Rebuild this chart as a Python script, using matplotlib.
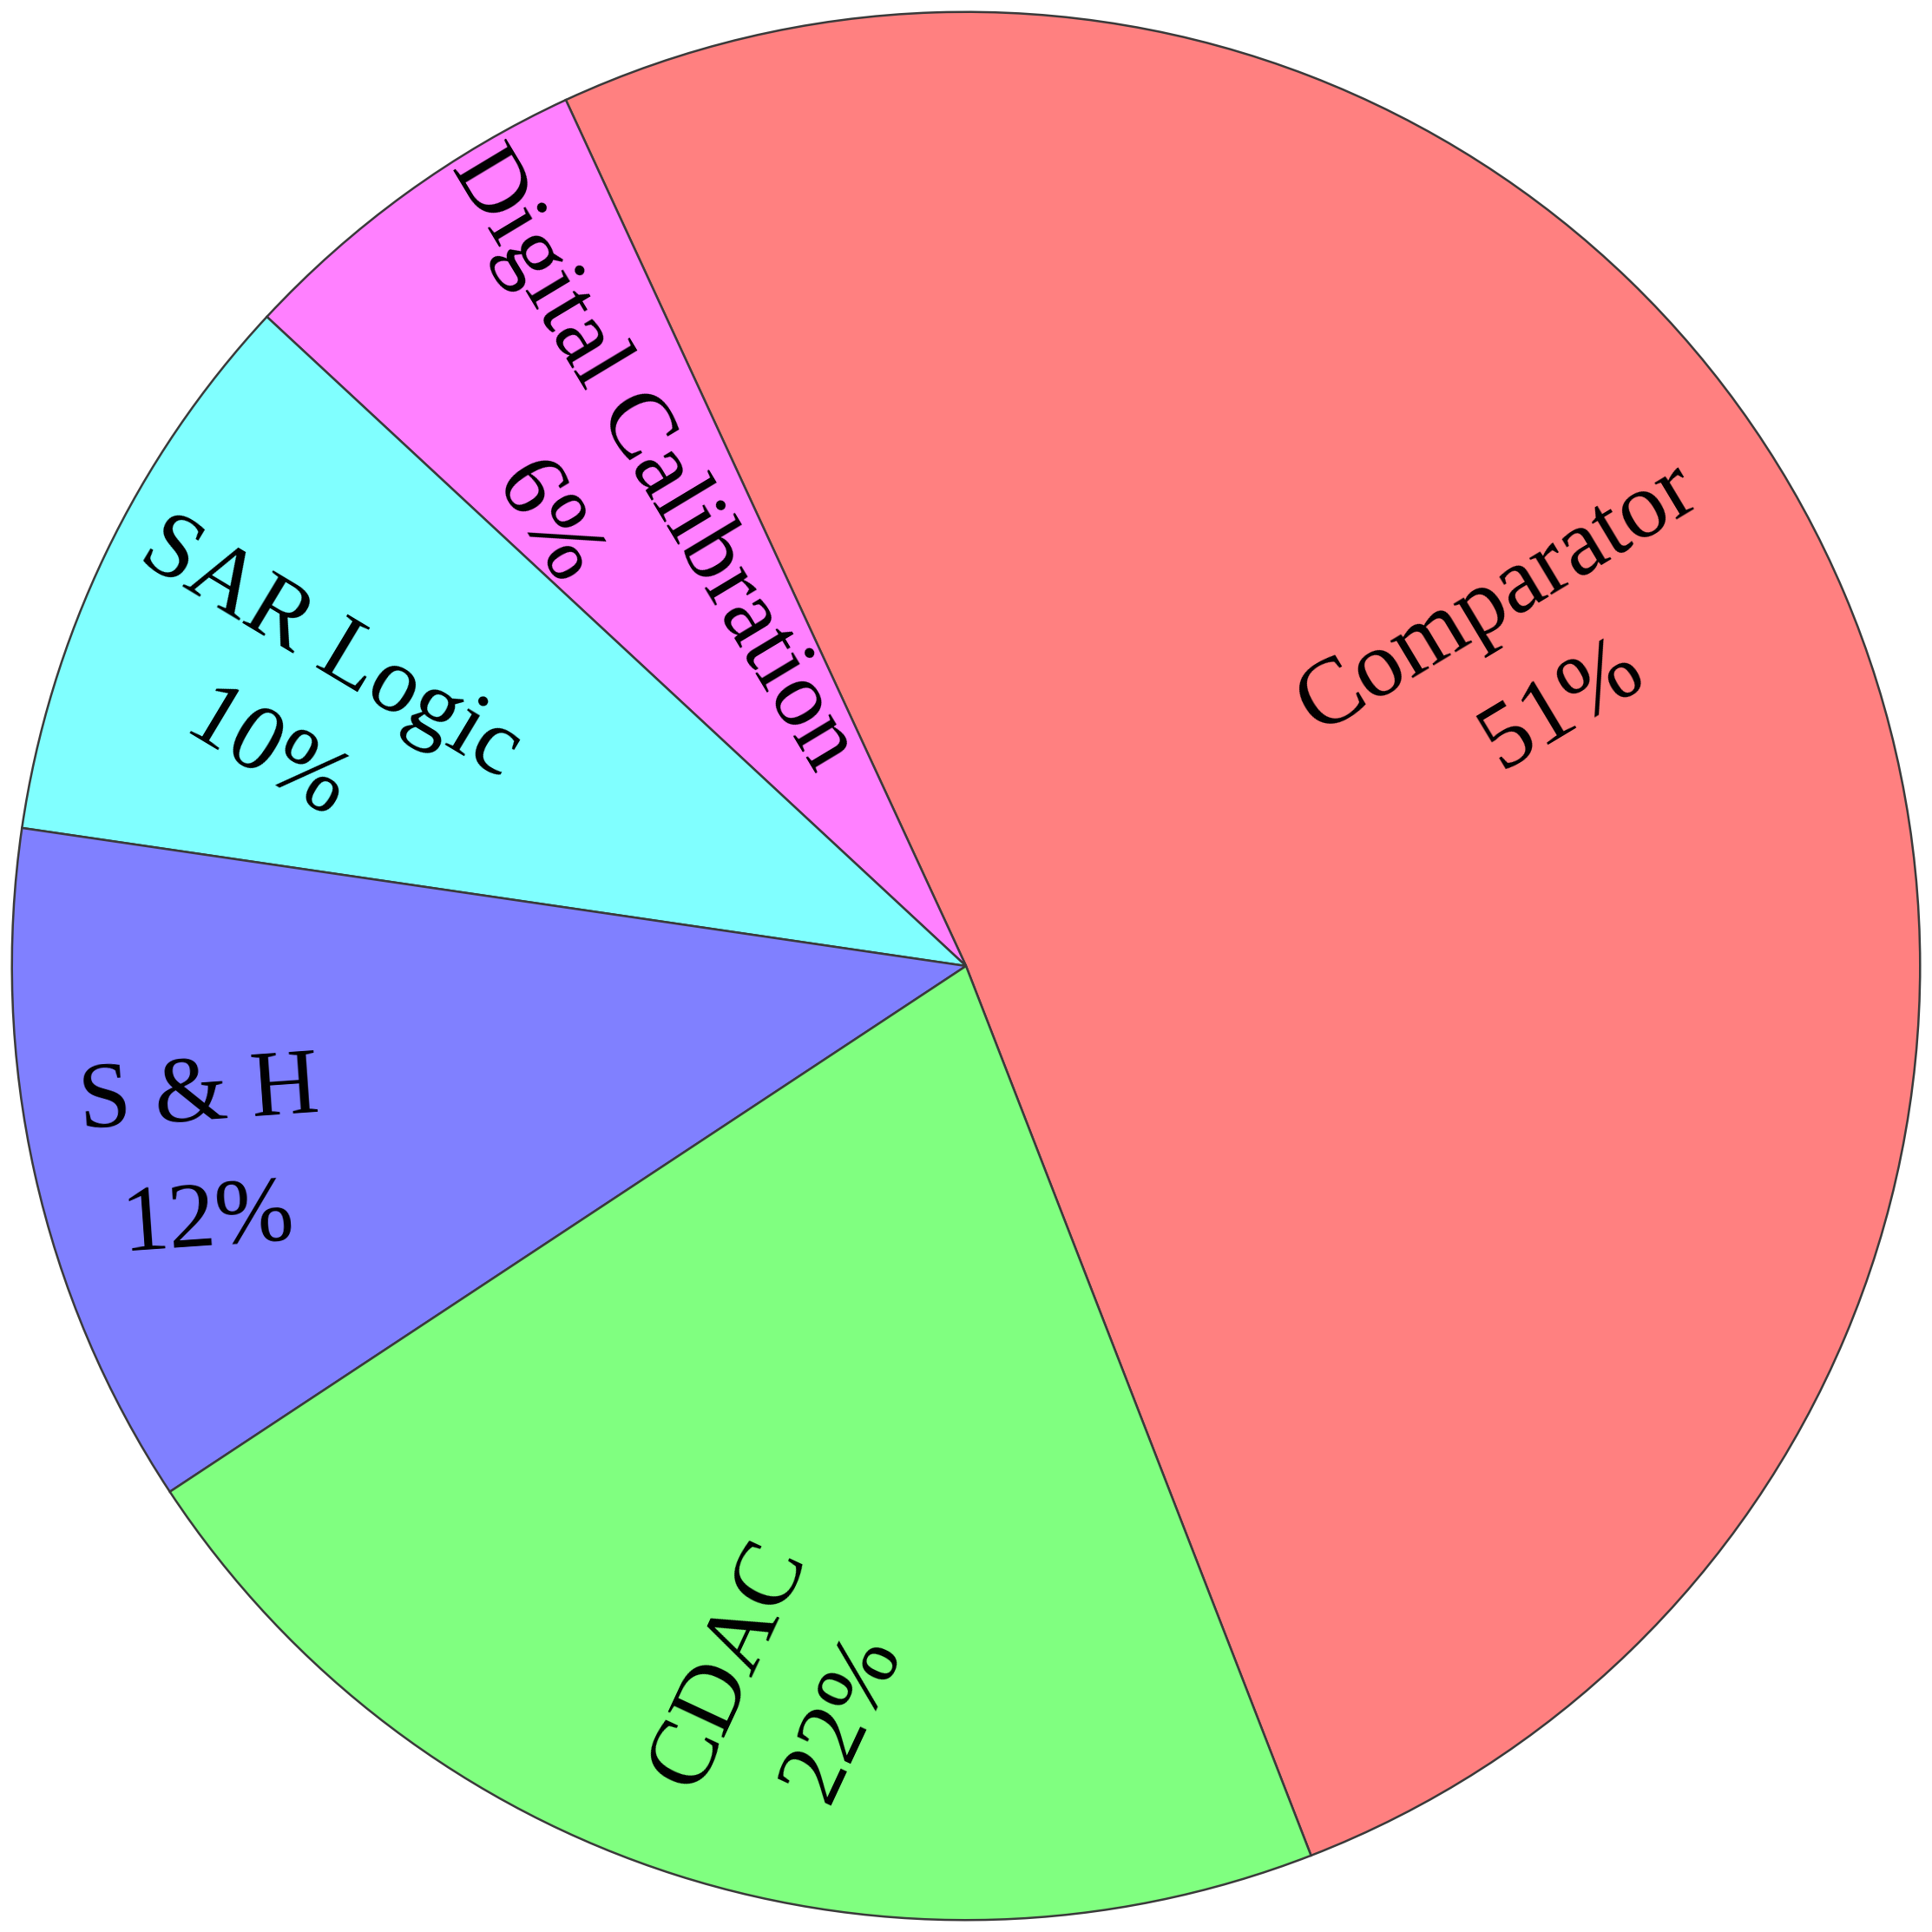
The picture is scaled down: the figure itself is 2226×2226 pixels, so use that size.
import matplotlib
matplotlib.use("Agg")
import matplotlib.pyplot as plt
from matplotlib import font_manager
from matplotlib.font_manager import FontProperties

# power breakdown of the ADC (percent)
names = ["Comparator", "Digital Calibration", "SAR Logic", "S & H", "CDAC"]
shares = [51.0, 6.2, 9.6, 11.6, 21.6]
pct_labels = ["51%", "6%", "10%", "12%", "22%"]
colors = ["#ff8080", "#ff80ff", "#80ffff", "#8080ff", "#80ff80"]

# label placement (pie units) and rotation, set by hand like the original
label_xy = [(0.592, 0.329), (-0.385, 0.497), (-0.70, 0.275), (-0.799, -0.203), (-0.188, -0.76)]
label_rot = [31, -59, -31, 4, 65]

# Times-like face; point at the file directly so nothing falls back
serif_path = font_manager.findfont(FontProperties(family="Liberation Serif"))
label_font = FontProperties(fname=serif_path, size=78)

fig = plt.figure(figsize=(22.26, 22.26), dpi=100)
ax = fig.add_axes([0, 0, 1, 1])
wedges, _ = ax.pie(shares, colors=colors, startangle=-68.8, counterclock=True,
                   radius=1.0,
                   wedgeprops=dict(edgecolor="#3a3a3a", linewidth=1.8))

for name, pct, (x, y), rot in zip(names, pct_labels, label_xy, label_rot):
    ax.text(x, y, f"{name}\n{pct}", ha="center", va="center", rotation=rot,
            rotation_mode="anchor", linespacing=1.62,
            multialignment="center", fontproperties=label_font)

ax.set_xlim(-1.0125, 1.0125)
ax.set_ylim(-1.0125, 1.0125)
ax.set_aspect("equal")
ax.axis("off")

fig.savefig("out.png", dpi=100, facecolor="white")
